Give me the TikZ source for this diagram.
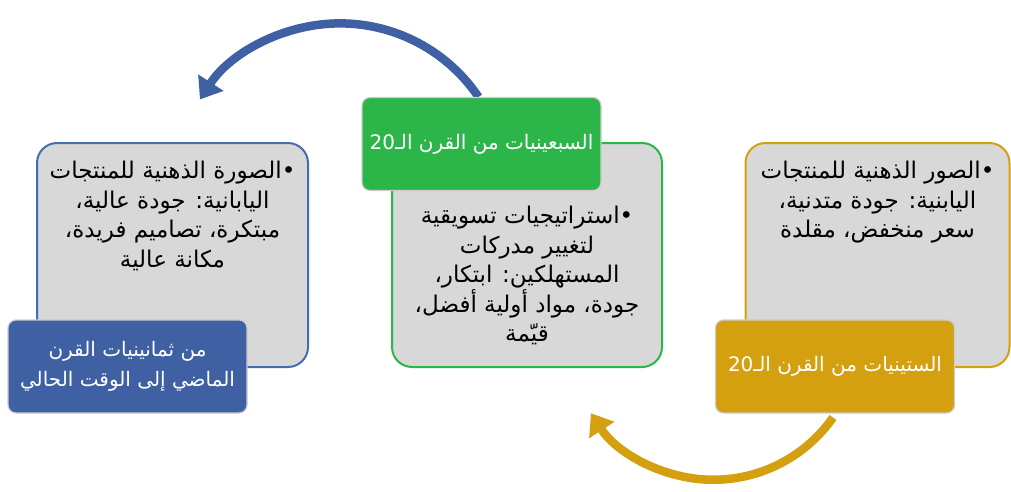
\documentclass[tikz,border=0pt]{standalone}
\usepackage{fontspec}
\setmainfont{DejaVu Sans}
\newfontfamily\arabicfont[Script=Arabic]{DejaVu Sans}
\TeXXeTstate=1
\usetikzlibrary{arrows.meta}
\definecolor{cblue}{RGB}{63,96,162}
\definecolor{cbluebd}{RGB}{72,108,178}
\definecolor{cgreen}{RGB}{44,182,74}
\definecolor{cgold}{RGB}{212,160,16}
\definecolor{boxgray}{RGB}{216,216,216}
\definecolor{shadowgray}{RGB}{205,205,205}
\newcommand{\AR}[1]{\beginR #1\endR}
\begin{document}
\begin{tikzpicture}[x=1pt,y=1pt,
  graybox/.style={rectangle, rounded corners=20pt, fill=boxgray, line width=2pt, minimum height=224pt, inner sep=0pt},
  tagbox/.style={rectangle, rounded corners=8pt, draw=shadowgray, line width=1.2pt, minimum width=239pt, minimum height=93pt, text=white, font=\arabicfont\fontsize{20}{30}\selectfont, align=center, inner sep=0pt},
  bodytext/.style={font=\arabicfont\fontsize{23}{29.5}\selectfont, align=center, text=black, anchor=north, inner sep=0pt},
  cyclearrow/.style={line width=8.5pt, -{Triangle[length=20pt,width=29pt]}}
]
\useasboundingbox (0,0) rectangle (1011,491);

% gray content boxes
\node[graybox, draw=cbluebd, minimum width=271pt] (lbox) at (172.5,236) {};
\node[graybox, draw=cgreen, minimum width=270pt] (mbox) at (527,236) {};
\node[graybox, draw=cgold, minimum width=264pt] (rbox) at (877.5,236) {};

% label boxes and cycle arrows
\coordinate (greenc) at (481.5,347);
\draw[cyclearrow, cblue] ([shift={(-3pt,47pt)}]greenc) arc[start angle=34, end angle=147, radius=167];
\node[tagbox, fill=cgreen] (green) at (greenc) {\AR{السبعينيات من القرن الـ\beginL 20\endL}};

\coordinate (goldc) at (835,124.5);
\draw[cyclearrow, cgold] ([shift={(-2pt,-51pt)}]goldc) arc[start angle=-35, end angle=-147, radius=146];
\node[tagbox, fill=cgold] (gold) at (goldc) {\AR{الستينيات من القرن الـ\beginL 20\endL}};

\node[tagbox, fill=cblue] (blue) at (127.5,124.5) {\AR{من ثمانينيات القرن}\\\AR{الماضي إلى الوقت الحالي}};

% body texts
\node[bodytext] (ltext) at ([yshift=-19pt]lbox.north) {\AR{•الصورة الذهنية للمنتجات}\\\AR{اليابانية: جودة عالية،}\\\AR{مبتكرة، تصاميم فريدة،}\\\AR{مكانة عالية}};
\node[bodytext] (mtext) at ([yshift=-64pt]mbox.north) {\AR{•استراتيجيات تسويقية}\\\AR{لتغيير مدركات}\\\AR{المستهلكين: ابتكار،}\\\AR{جودة، مواد أولية أفضل،}\\\AR{قيّمة}};
\node[bodytext] (rtext) at ([yshift=-19pt]rbox.north) {\AR{•الصور الذهنية للمنتجات}\\\AR{اليابنية: جودة متدنية،}\\\AR{سعر منخفض، مقلدة}};
\end{tikzpicture}
\end{document}
